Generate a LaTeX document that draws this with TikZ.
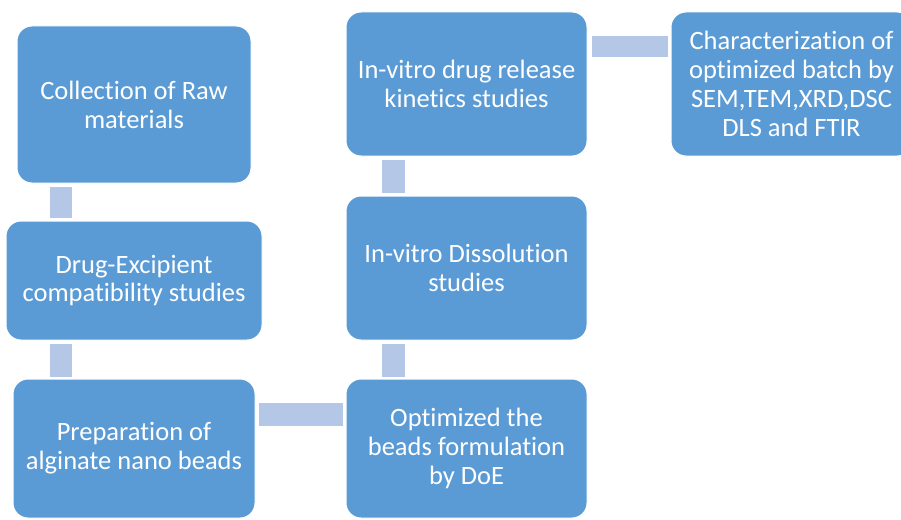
\documentclass[tikz,border=0pt]{standalone}
\usepackage{fontspec}
\setmainfont{Carlito}[Ligatures={NoCommon}]
\definecolor{boxblue}{HTML}{5B9BD5}
\definecolor{connblue}{HTML}{B4C7E7}
\begin{document}
\begin{tikzpicture}[x=1pt,y=-1pt,
  box/.style={draw=white, line width=1pt, fill=boxblue, rounded corners=15pt, text=white,
    align=center, inner sep=2pt, font=\fontsize{26.5}{28.8}\selectfont},
  conn/.style={draw=connblue, line width=22pt}]
\path[use as bounding box] (0,0) rectangle (901,519);
\begin{scope}
\clip (0,0) rectangle (901,519);
\node[box, minimum width=234pt, minimum height=157pt] (b1) at (134,104.5) {Collection of Raw\\materials};
\node[box, minimum width=256pt, minimum height=119pt] (b2) at (134,280.5) {Drug-Excipient\\compatibility studies};
\node[box, minimum width=242pt, minimum height=139pt] (b3) at (134,448.5) {Preparation of\\alginate nano beads};
\node[box, minimum width=241pt, minimum height=139pt] (b4) at (466.5,448.5) {Optimized the\\beads formulation\\by DoE};
\node[box, minimum width=241pt, minimum height=144pt] (b5) at (466.5,268) {In-vitro Dissolution\\studies};
\node[box, minimum width=241pt, minimum height=144pt] (b6) at (466.5,84) {In-vitro drug release\\kinetics studies};
\node[box, minimum width=241pt, minimum height=144pt] (b7) at (791.5,84) {Characterization of\\optimized batch by\\SEM,TEM,XRD,DSC\\DLS and FTIR};
\draw[conn] ([shift={(-73pt,-3pt)}]b1.south) -- ([shift={(-73pt,3pt)}]b2.north);
\draw[conn] ([shift={(-73pt,-3pt)}]b2.south) -- ([shift={(-73pt,2pt)}]b3.north);
\draw[conn, line width=23pt] ([shift={(3pt,34pt)}]b3.east) -- ([shift={(-3pt,34pt)}]b4.west);
\draw[conn, line width=23pt] ([shift={(-73pt,2pt)}]b4.north) -- ([shift={(-73pt,-3pt)}]b5.south);
\draw[conn, line width=23pt] ([shift={(-73pt,3pt)}]b5.north) -- ([shift={(-73pt,-3pt)}]b6.south);
\draw[conn, line width=21pt] ([shift={(4pt,37.5pt)}]b6.east) -- ([shift={(-3pt,37.5pt)}]b7.west);
\end{scope}
\end{tikzpicture}
\end{document}
